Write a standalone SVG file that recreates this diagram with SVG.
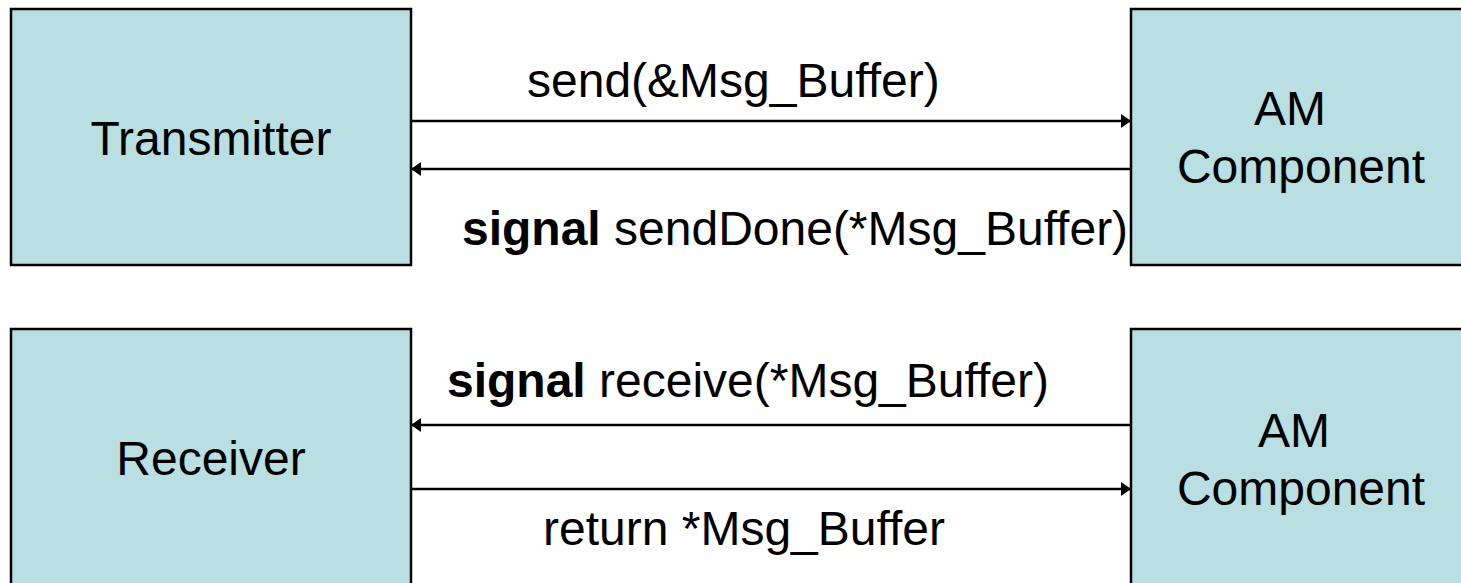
<svg xmlns="http://www.w3.org/2000/svg" width="1461" height="583" viewBox="0 0 1461 583">
<defs>
<style>
.box{fill:#B9DFE2;stroke:#000;stroke-width:2.5}
.t{font-family:"Liberation Sans",Arial,sans-serif;font-size:48px;fill:#000}
.c{stroke:#000;stroke-width:2.5;fill:none}
</style>
<marker id="ah" viewBox="0 0 10 14" refX="10" refY="7" markerWidth="10" markerHeight="14" markerUnits="userSpaceOnUse" orient="auto">
<path d="M0,0 L10,7 L0,14 Z" fill="#000"/>
</marker>
</defs>
<rect width="1461" height="583" fill="#fff"/>
<g id="transmitter">
<rect class="box" x="11" y="9" width="400" height="256"/>
<text class="t" x="211" y="155" text-anchor="middle">Transmitter</text>
</g>
<g id="am-top">
<rect class="box" x="1131" y="9" width="340" height="256"/>
<text class="t" x="1290" y="125" text-anchor="middle">AM</text>
<text class="t" x="1301" y="183" text-anchor="middle">Component</text>
</g>
<g id="receiver">
<rect class="box" x="11" y="329" width="400" height="270"/>
<text class="t" x="211" y="475" text-anchor="middle">Receiver</text>
</g>
<g id="am-bottom">
<rect class="box" x="1131" y="329" width="340" height="270"/>
<text class="t" x="1294" y="447" text-anchor="middle">AM</text>
<text class="t" x="1301" y="505" text-anchor="middle">Component</text>
</g>
<g id="connectors">
<line class="c" x1="411" y1="121" x2="1131" y2="121" marker-end="url(#ah)"/>
<line class="c" x1="1131" y1="169" x2="411" y2="169" marker-end="url(#ah)"/>
<line class="c" x1="1131" y1="425" x2="411" y2="425" marker-end="url(#ah)"/>
<line class="c" x1="411" y1="489" x2="1131" y2="489" marker-end="url(#ah)"/>
<text class="t" x="527" y="97">send(&amp;Msg_Buffer)</text>
<text class="t" x="462" y="245"><tspan font-weight="bold">signal</tspan> sendDone(*Msg_Buffer)</text>
<text class="t" x="447" y="397"><tspan font-weight="bold">signal</tspan> receive(*Msg_Buffer)</text>
<text class="t" x="543" y="545">return *Msg_Buffer</text>
</g>
</svg>
